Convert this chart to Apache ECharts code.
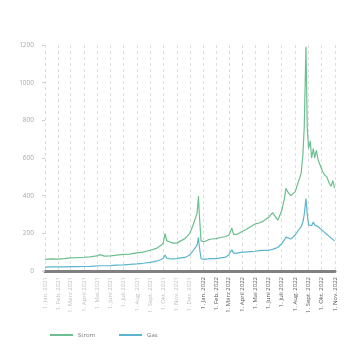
<!DOCTYPE html>
<html><head><meta charset="utf-8">
<script src="https://cdn.jsdelivr.net/npm/echarts@6/dist/echarts.min.js"></script>
<style>html,body{margin:0;padding:0;background:#fff}#c{width:360px;height:360px}</style>
</head><body><div id="c"></div>
<script>
var dates = ['2021-01-01','2021-01-15','2021-02-01','2021-02-15','2021-03-01','2021-03-15','2021-04-01','2021-04-15','2021-05-01','2021-05-08','2021-05-18','2021-06-01','2021-06-15','2021-07-01','2021-07-15','2021-08-01','2021-08-15','2021-09-01','2021-09-15','2021-09-25','2021-10-01','2021-10-05','2021-10-09','2021-10-15','2021-10-22','2021-11-01','2021-11-10','2021-11-20','2021-12-01','2021-12-08','2021-12-14','2021-12-18','2021-12-21','2021-12-23','2021-12-27','2022-01-03','2022-01-12','2022-01-20','2022-02-01','2022-02-10','2022-02-20','2022-03-01','2022-03-04','2022-03-08','2022-03-12','2022-03-20','2022-04-01','2022-04-10','2022-04-20','2022-05-01','2022-05-10','2022-05-20','2022-06-01','2022-06-10','2022-06-16','2022-06-22','2022-07-01','2022-07-07','2022-07-11','2022-07-15','2022-07-22','2022-08-01','2022-08-08','2022-08-15','2022-08-19','2022-08-22','2022-08-26','2022-08-29','2022-09-01','2022-09-05','2022-09-08','2022-09-12','2022-09-15','2022-09-19','2022-09-23','2022-09-28','2022-10-03','2022-10-08','2022-10-13','2022-10-18','2022-10-23','2022-10-27','2022-10-31'];
var strom = [62,64,63,66,70,71,73,75,80,87,79,80,84,88,90,96,100,110,120,135,150,198,160,155,148,148,160,172,200,240,280,310,397,300,160,155,165,170,172,178,182,190,205,228,195,195,210,220,235,250,255,265,285,310,290,270,320,380,440,420,400,420,470,520,620,760,1190,760,650,690,600,650,600,640,590,560,530,510,500,470,450,480,440];
var gas = [21,22,22,22,23,23,24,25,27,28,28,29,31,33,35,38,41,46,52,60,68,85,68,66,64,66,70,72,85,105,125,140,178,130,65,62,64,66,66,70,72,85,100,112,95,95,100,100,103,105,108,110,110,115,120,125,145,165,180,172,170,190,215,235,260,300,385,300,245,255,240,260,245,255,235,225,215,205,195,185,175,170,160];
var monthNames = ['Jan.','Feb.','März','April','Mai','Juni','Juli','Aug.','Sept.','Okt.','Nov.','Dez.'];
var seriesNames = ['Strom','Gas'];
var colors = ['#6cbf8e','#5db5cc'];

function pairs(vals){ return dates.map(function(d,i){ return [d, vals[i]]; }); }
var chart = echarts.init(document.getElementById('c'), null, {renderer:'canvas'});
var DAY = 86400000;
chart.setOption({
  animation:false,
  textStyle:{fontFamily:'Open Sans'},
  grid:{left:45,right:25,top:45,bottom:89,containLabel:false},
  legend:{left:45,top:327,itemWidth:23,itemHeight:2,itemGap:24,icon:'rect',
    textStyle:{fontSize:6,color:'#777',fontFamily:'Open Sans'},
    data:seriesNames},
  xAxis:{type:'time',min:'2021-01-01',max:'2022-11-01',
    minInterval:28*DAY,maxInterval:31*DAY,
    axisLine:{show:true,lineStyle:{color:'#808080',width:3}},
    axisTick:{show:false},
    splitLine:{show:true,lineStyle:{color:'#dedede',type:[3,3],width:1}},
    axisLabel:{rotate:90,margin:6,fontSize:6,showMinLabel:true,showMaxLabel:true,
      formatter:function(v){var d=new Date(v);var s='1. '+monthNames[d.getMonth()]+' '+d.getFullYear();return (d.getFullYear()<2022?'{g|':'{d|')+s+'}';},
      rich:{g:{color:'#bdbdbd',fontSize:6,fontFamily:'Open Sans',fontWeight:'normal'},d:{color:'#555',fontSize:6,fontFamily:'Open Sans',fontWeight:'normal'}}}
  },
  yAxis:{type:'value',min:0,max:1200,interval:200,
    axisLine:{show:false},
    axisTick:{show:true,length:3,lineStyle:{color:'#cfcfcf'}},
    splitLine:{show:false},
    axisLabel:{fontSize:6.5,color:'#aaa',margin:11,formatter:function(v){return String(v);}}
  },
  series:[
    {name:seriesNames[0],type:'line',data:pairs(strom),showSymbol:false,color:colors[0],lineStyle:{width:1.2,color:colors[0]},z:3},
    {name:seriesNames[1],type:'line',data:pairs(gas),showSymbol:false,color:colors[1],lineStyle:{width:1.2,color:colors[1]},z:2}
  ]
});
</script></body></html>
